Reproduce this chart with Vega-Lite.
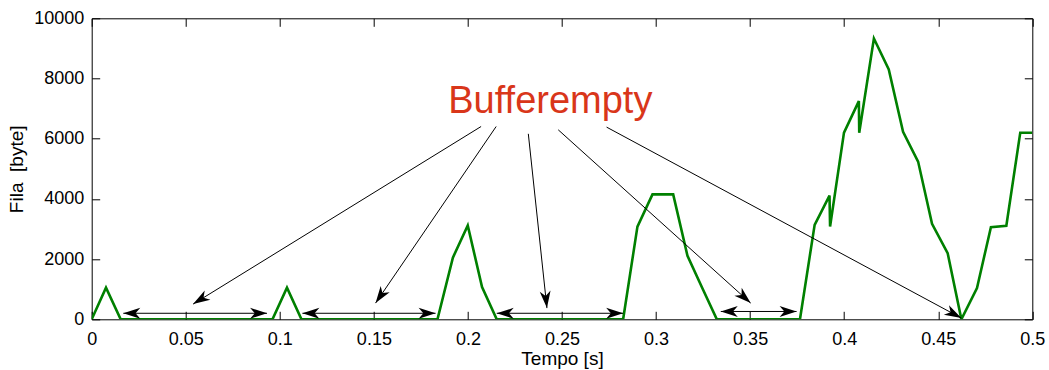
{
  "$schema": "https://vega.github.io/schema/vega-lite/v6.json",
  "width": 940.6,
  "height": 301,
  "autosize": "none",
  "padding": {"left": 91.7, "top": 18.3, "right": 16.7, "bottom": 50.7},
  "background": "white",
  "config": {
    "font": "Liberation Sans",
    "view": {"stroke": "#000", "strokeWidth": 1},
    "axis": {
      "labelFont": "Liberation Sans",
      "labelFontSize": 18,
      "labelColor": "#000",
      "titleFont": "Liberation Sans",
      "titleFontSize": 19,
      "titleFontWeight": "normal",
      "titleColor": "#000",
      "domain": false,
      "tickColor": "#000",
      "tickWidth": 1,
      "tickSize": 8,
      "offset": -8,
      "grid": false
    }
  },
  "datasets": {
    "queue": [
      {"t": 0, "bytes": 0},
      {"t": 0.0076, "bytes": 1050},
      {"t": 0.0154, "bytes": 0},
      {"t": 0.0961, "bytes": 0},
      {"t": 0.1038, "bytes": 1050},
      {"t": 0.1115, "bytes": 0},
      {"t": 0.1838, "bytes": 0},
      {"t": 0.192, "bytes": 2050},
      {"t": 0.1999, "bytes": 3120},
      {"t": 0.2075, "bytes": 1070},
      {"t": 0.2153, "bytes": 0},
      {"t": 0.2825, "bytes": 0},
      {"t": 0.2901, "bytes": 3080},
      {"t": 0.2981, "bytes": 4150},
      {"t": 0.3091, "bytes": 4150},
      {"t": 0.3167, "bytes": 2110},
      {"t": 0.3245, "bytes": 1050},
      {"t": 0.3323, "bytes": 0},
      {"t": 0.3765, "bytes": 0},
      {"t": 0.3843, "bytes": 3140},
      {"t": 0.3922, "bytes": 4110},
      {"t": 0.3925, "bytes": 3080},
      {"t": 0.3999, "bytes": 6200},
      {"t": 0.4078, "bytes": 7250},
      {"t": 0.408, "bytes": 6200},
      {"t": 0.4158, "bytes": 9330},
      {"t": 0.4237, "bytes": 8300},
      {"t": 0.4313, "bytes": 6230},
      {"t": 0.4393, "bytes": 5240},
      {"t": 0.4467, "bytes": 3170},
      {"t": 0.455, "bytes": 2200},
      {"t": 0.4623, "bytes": 0},
      {"t": 0.4706, "bytes": 1040},
      {"t": 0.478, "bytes": 3060},
      {"t": 0.4862, "bytes": 3110},
      {"t": 0.4936, "bytes": 6200},
      {"t": 0.5, "bytes": 6200}
    ],
    "pointers": [
      {"t": 0.207, "bytes": 6405, "t2": 0.0539, "bytes2": 505},
      {"t": 0.215, "bytes": 6405, "t2": 0.1509, "bytes2": 538},
      {"t": 0.2321, "bytes": 6162, "t2": 0.242, "bytes2": 372},
      {"t": 0.248, "bytes": 6295, "t2": 0.3503, "bytes2": 538},
      {"t": 0.2737, "bytes": 6385, "t2": 0.4623, "bytes2": 40}
    ],
    "spans": [
      {"t": 0.0168, "t2": 0.0932, "bytes": 200},
      {"t": 0.112, "t2": 0.1828, "bytes": 200},
      {"t": 0.2153, "t2": 0.2825, "bytes": 200},
      {"t": 0.3344, "t2": 0.3747, "bytes": 260}
    ],
    "notes": [
      {"t": 0.2438, "bytes": 6860, "label": "Bufferempty"}
    ]
  },
  "layer": [
    {
      "data": {"name": "queue"},
      "mark": {"type": "line", "color": "#008000", "strokeWidth": 2.6, "strokeJoin": "miter", "clip": true},
      "encoding": {
        "x": {
          "field": "t", "type": "quantitative",
          "scale": {"domain": [0, 0.5], "nice": false, "zero": false},
          "axis": {
            "orient": "bottom",
            "values": [0, 0.05, 0.1, 0.15, 0.2, 0.25, 0.3, 0.35, 0.4, 0.45, 0.5],
            "format": "~g",
            "labelPadding": 11,
            "labelFlush": false,
            "labelOverlap": false,
            "title": "Tempo [s]",
            "titlePadding": 1
          }
        },
        "y": {
          "field": "bytes", "type": "quantitative",
          "scale": {"domain": [0, 10000], "nice": false},
          "axis": {
            "orient": "left",
            "values": [0, 2000, 4000, 6000, 8000, 10000],
            "format": "d",
            "labelPadding": 8,
            "labelFlush": false,
            "labelOverlap": false,
            "title": "Fila \u00a0[byte]",
            "titlePadding": 7
          }
        }
      }
    },
    {
      "data": {"name": "queue"},
      "mark": {"type": "line", "strokeOpacity": 0},
      "encoding": {
        "x": {
          "field": "t", "type": "quantitative",
          "axis": {
            "orient": "top",
            "values": [0, 0.05, 0.1, 0.15, 0.2, 0.25, 0.3, 0.35, 0.4, 0.45, 0.5],
            "labels": false, "title": null
          }
        },
        "y": {
          "field": "bytes", "type": "quantitative",
          "axis": {
            "orient": "right",
            "values": [0, 2000, 4000, 6000, 8000, 10000],
            "labels": false, "title": null
          }
        }
      }
    },
    {
      "data": {"name": "pointers"},
      "mark": {"type": "rule", "color": "#000", "strokeWidth": 1},
      "encoding": {
        "x": {"field": "t", "type": "quantitative", "axis": null},
        "y": {"field": "bytes", "type": "quantitative", "axis": null},
        "x2": {"field": "t2"},
        "y2": {"field": "bytes2"}
      }
    },
    {
      "data": {"name": "pointers"},
      "transform": [
        {"calculate": "atan2(-(datum.bytes2 - datum.bytes) * 301 / 10000, (datum.t2 - datum.t) * 940.6 / 0.5) * 180 / PI", "as": "heading"}
      ],
      "mark": {"type": "point", "shape": "M0,0 L-1,-0.32 L-0.72,0 L-1,0.32 Z", "filled": true, "color": "#000", "opacity": 1, "size": 1156, "strokeWidth": 0},
      "encoding": {
        "x": {"field": "t2", "type": "quantitative", "axis": null},
        "y": {"field": "bytes2", "type": "quantitative", "axis": null},
        "angle": {"field": "heading", "type": "quantitative", "scale": null}
      }
    },
    {
      "data": {"name": "spans"},
      "mark": {"type": "rule", "color": "#000", "strokeWidth": 1},
      "encoding": {
        "x": {"field": "t", "type": "quantitative", "axis": null},
        "x2": {"field": "t2"},
        "y": {"field": "bytes", "type": "quantitative", "axis": null}
      }
    },
    {
      "data": {"name": "spans"},
      "mark": {"type": "point", "shape": "M0,0 L-1,-0.32 L-0.72,0 L-1,0.32 Z", "filled": true, "color": "#000", "opacity": 1, "size": 1156, "strokeWidth": 0, "angle": 0},
      "encoding": {
        "x": {"field": "t2", "type": "quantitative", "axis": null},
        "y": {"field": "bytes", "type": "quantitative", "axis": null}
      }
    },
    {
      "data": {"name": "spans"},
      "mark": {"type": "point", "shape": "M0,0 L-1,-0.32 L-0.72,0 L-1,0.32 Z", "filled": true, "color": "#000", "opacity": 1, "size": 1156, "strokeWidth": 0, "angle": 180},
      "encoding": {
        "x": {"field": "t", "type": "quantitative", "axis": null},
        "y": {"field": "bytes", "type": "quantitative", "axis": null}
      }
    },
    {
      "data": {"name": "notes"},
      "mark": {"type": "text", "font": "Liberation Sans", "fontSize": 38, "color": "#d9361a", "align": "center", "baseline": "alphabetic"},
      "encoding": {
        "x": {"field": "t", "type": "quantitative", "axis": null},
        "y": {"field": "bytes", "type": "quantitative", "axis": null},
        "text": {"field": "label"}
      }
    }
  ],
  "resolve": {"axis": {"x": "independent", "y": "independent"}}
}
